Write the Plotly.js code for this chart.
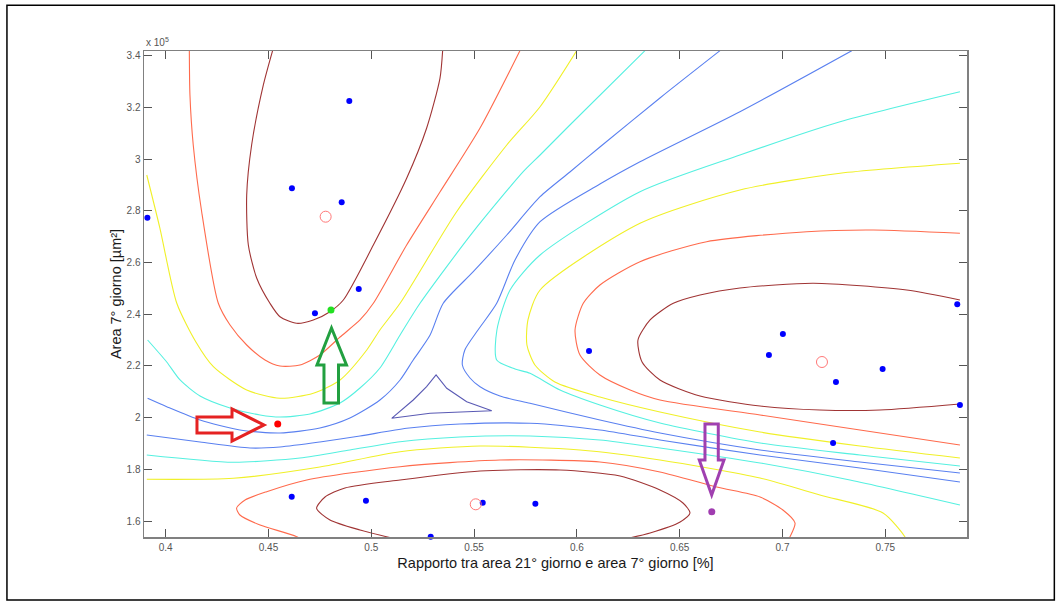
<!DOCTYPE html>
<html><head><meta charset="utf-8">
<script src="https://cdn.plot.ly/plotly-3.0.1.min.js"></script>
<style>html,body{margin:0;padding:0;background:#fff}#chart{width:1060px;height:603px}</style>
</head><body><div id="chart"></div>
<script>
// ---- contour lines (x = ratio, y = area in 1e5 µm²) ----
// upper-left cluster
const ulL7x = [0.4520,0.4475,0.4418,0.4394,0.4402,0.4443,0.4507,0.4556,0.4637,0.4718,0.4799,0.4864,0.5010,0.5172,0.5269,0.5334,0.5347];
const ulL7y = [3.4194,3.2867,3.0546,2.8611,2.6677,2.5389,2.4422,2.3903,2.3648,2.3776,2.4097,2.4549,2.6677,2.9257,3.1192,3.3126,3.4194];
const ulL6x = [0.4115,0.4118,0.4134,0.4175,0.4256,0.4313,0.4394,0.4483,0.4556,0.4653,0.4750,0.4848,0.4945,0.5010,0.5172,0.5334,0.5529,0.5723];
const ulL6y = [3.4194,3.2480,3.0546,2.7965,2.4422,2.3582,2.2809,2.2228,2.1996,2.2035,2.2422,2.3118,2.3776,2.4422,2.6677,2.8727,3.1203,3.4194];
const ulL5x = [0.3908,0.3972,0.4054,0.4147,0.4232,0.4394,0.4556,0.4718,0.4848,0.4978,0.5042,0.5140,0.5415,0.5659,0.5821,0.5999];
const ulL5y = [2.9385,2.7323,2.4422,2.2925,2.1969,2.1068,2.0747,2.0940,2.1455,2.2615,2.3389,2.4422,2.7965,3.0546,3.2027,3.4194];
const ulL4x = [0.3912,0.4005,0.4070,0.4167,0.4313,0.4459,0.4556,0.4702,0.4848,0.4945,0.5042,0.5140,0.5237,0.5496,0.5739,0.5821,0.5966,0.6331];
const ulL4y = [2.3002,2.2151,2.1455,2.0836,2.0371,2.0101,2.0023,2.0139,2.0565,2.1145,2.1919,2.3195,2.4422,2.7192,2.9513,3.0159,3.1319,3.4194];
const ulL3x = [0.3912,0.4005,0.4167,0.4361,0.4556,0.4750,0.4896,0.5042,0.5140,0.5204,0.5286,0.5350,0.5496,0.5659,0.5821,0.5966,0.6112,0.6404,0.6696];
const ulL3y = [2.0747,2.0422,1.9907,1.9520,1.9404,1.9598,1.9985,2.0681,2.1455,2.2228,2.3195,2.4422,2.5644,2.7064,2.8545,2.9501,3.0468,3.2364,3.4194];
// right cluster
const rL3x = [0.7337,0.6793,0.6307,0.6112,0.5821,0.5699,0.5610,0.5519,0.5455,0.5443,0.5480,0.5529,0.5626,0.5772,0.6112,0.6404,0.6891,0.7377,0.7863];
const rL3y = [3.4194,3.1834,2.9899,2.9037,2.7578,2.6097,2.4422,2.3389,2.2615,2.2035,2.1532,2.1195,2.0836,2.0553,1.9907,1.9404,1.8747,1.8282,1.7857];
const rL4x = [0.7863,0.7280,0.6793,0.6307,0.5821,0.5675,0.5611,0.5610,0.5699,0.5772,0.5918,0.6112,0.6404,0.6891,0.7377,0.7863];
const rL4y = [3.2607,3.1447,3.0159,2.8739,2.6290,2.4936,2.3389,2.2228,2.1880,2.1714,2.1068,2.0487,1.9791,1.9017,1.8553,1.8128];
const rL5x = [0.7863,0.7280,0.6793,0.6307,0.5821,0.5762,0.5757,0.5796,0.5893,0.6112,0.6404,0.6891,0.7377,0.7863];
const rL5y = [2.9838,2.9451,2.8805,2.7516,2.4936,2.3776,2.2809,2.2035,2.1377,2.0797,2.0217,1.9443,1.8901,1.8437];
const rL6x = [0.7863,0.7442,0.7118,0.6631,0.6307,0.6112,0.6031,0.5991,0.6015,0.6112,0.6259,0.6404,0.6891,0.7377,0.7863];
const rL6y = [2.7130,2.7257,2.7192,2.6805,2.6031,2.5130,2.4422,2.3389,2.2422,2.1648,2.1068,2.0681,2.0101,1.9520,1.8940];
const rL7x = [0.7863,0.7604,0.7150,0.6793,0.6599,0.6469,0.6356,0.6297,0.6317,0.6404,0.6599,0.6891,0.7182,0.7474,0.7863];
const rL7y = [2.4549,2.4936,2.5195,2.5014,2.4743,2.4422,2.3776,2.3002,2.2151,2.1455,2.0836,2.0449,2.0294,2.0294,2.0526];
// bottom cluster
const bL3x = [0.3908,0.4167,0.4410,0.4556,0.4750,0.4945,0.5172,0.5431,0.5772,0.6112,0.6404,0.6891,0.7377,0.7863];
const bL3y = [1.9327,1.9056,1.8824,1.8863,1.9056,1.9288,1.9586,1.9752,1.9779,1.9520,1.9133,1.8553,1.8050,1.7509];
const bL4x = [0.3908,0.4329,0.4653,0.4896,0.5140,0.5431,0.5772,0.6112,0.6404,0.6891,0.7328,0.7863];
const bL4y = [1.8553,1.8271,1.8437,1.8747,1.9068,1.9250,1.9288,1.9133,1.8824,1.8244,1.7586,1.6619];
const bL5x = [0.3908,0.4329,0.4750,0.5140,0.5529,0.6015,0.6404,0.6891,0.7182,0.7489,0.7596,0.7611];
const bL5y = [1.7613,1.7652,1.8089,1.8681,1.8901,1.8747,1.8360,1.7663,1.7006,1.6309,1.5381,1.5072];
const bL6x = [0.4702,0.4637,0.4459,0.4361,0.4345,0.4386,0.4491,0.4686,0.5140,0.5626,0.6112,0.6404,0.6680,0.6891,0.7002,0.7061,0.7036,0.7012];
const bL6y = [1.5072,1.5393,1.5845,1.6232,1.6503,1.6812,1.7133,1.7586,1.8101,1.8360,1.8282,1.7896,1.7315,1.6928,1.6426,1.5923,1.5381,1.5072];
const bL7x = [0.5140,0.4945,0.4799,0.4734,0.4775,0.4872,0.5140,0.5529,0.5918,0.6210,0.6404,0.6516,0.6550,0.6502,0.6356,0.6210];
const bL7y = [1.5265,1.5652,1.6039,1.6491,1.6928,1.7277,1.7586,1.7934,1.7973,1.7741,1.7199,1.6696,1.6309,1.5961,1.5536,1.5265];
// central closed contour
const triX = [0.5099,0.5204,0.5269,0.5315,0.5367,0.5464,0.5586,0.5446,0.5286,0.5099];
const triY = [1.9973,2.0681,2.1195,2.1648,2.1133,2.0615,2.0267,2.0228,2.0166,1.9973];

// ---- samples ----
const sampleX = [0.3911,0.4614,0.4856,0.4893,0.5169,0.4939,0.4726,0.4613,0.4974,0.5289,0.5542,0.5798,0.6059,0.7002,0.6934,0.7260,0.7487,0.7246,0.7850,0.7863];
const sampleY = [2.7733,2.8870,2.8329,3.2248,3.4194,2.4975,2.4035,1.6940,1.6785,1.5393,1.6708,1.6669,2.2576,2.3234,2.2422,2.1377,2.1880,1.9017,2.4383,2.0487];
const centerX = [0.4778,0.7192,0.5508];
const centerY = [2.7772,2.2151,1.6646];
const greenX = [0.4804], greenY = [2.4163];
const redX = [0.4545], redY = [1.9752];
const purpleX = [0.6656], purpleY = [1.6360];

const xTicks = [0.4,0.45,0.5,0.55,0.6,0.65,0.7,0.75];
const xTickText = ['0.4','0.45','0.5','0.55','0.6','0.65','0.7','0.75'];
const yTicks = [1.6,1.8,2.0,2.2,2.4,2.6,2.8,3.0,3.2,3.4];
const yTickText = ['1.6','1.8','2','2.2','2.4','2.6','2.8','3','3.2','3.4'];

const C7 = '#a03434', C6 = '#ff6a4c', C5 = '#f0f028', C4 = '#55f0e0', C3 = '#5a80f0', C2 = '#5a5ab4';
function line(x, y, color, shape) {
  return {type:'scatter', mode:'lines', x:x, y:y, hoverinfo:'skip', showlegend:false,
    line:{color:color, width:1.1, shape:shape||'spline', smoothing:0.7}};
}
const traces = [
  line(ulL7x, ulL7y, C7), line(ulL6x, ulL6y, C6), line(ulL5x, ulL5y, C5), line(ulL4x, ulL4y, C4), line(ulL3x, ulL3y, C3),
  line(rL7x, rL7y, C7), line(rL6x, rL6y, C6), line(rL5x, rL5y, C5), line(rL4x, rL4y, C4), line(rL3x, rL3y, C3),
  line(bL7x, bL7y, C7), line(bL6x, bL6y, C6), line(bL5x, bL5y, C5), line(bL4x, bL4y, C4), line(bL3x, bL3y, C3),
  line(triX, triY, C2, 'linear'),
  {type:'scatter', mode:'markers', x:sampleX, y:sampleY, hoverinfo:'skip', showlegend:false, cliponaxis:false,
    marker:{color:'#0000ff', size:6}},
  {type:'scatter', mode:'markers', x:centerX, y:centerY, hoverinfo:'skip', showlegend:false,
    marker:{symbol:'circle-open', color:'#ff7878', size:11, line:{width:1}}},
  {type:'scatter', mode:'markers', x:greenX, y:greenY, hoverinfo:'skip', showlegend:false, marker:{color:'#22e022', size:7}},
  {type:'scatter', mode:'markers', x:redX, y:redY, hoverinfo:'skip', showlegend:false, marker:{color:'#ff0000', size:7}},
  {type:'scatter', mode:'markers', x:purpleX, y:purpleY, hoverinfo:'skip', showlegend:false, marker:{color:'#a03cb0', size:7}}
];

const axisCommon = {ticks:'inside', ticklen:8, tickcolor:'#555', tickwidth:1, showline:true, linecolor:'#808080',
  linewidth:1.5, mirror:'ticks', showgrid:false, zeroline:false, tickmode:'array',
  tickfont:{family:'Arial, Liberation Sans, sans-serif', size:10, color:'#555'}};

const layout = {
  width:1060, height:603, paper_bgcolor:'#fff', plot_bgcolor:'#fff',
  margin:{l:144, r:93, t:51, b:66},
  showlegend:false,
  xaxis:Object.assign({}, axisCommon, {range:[0.38945,0.78974], tickvals:xTicks, ticktext:xTickText,
    title:{text:'Rapporto tra area 21° giorno e area 7° giorno [%]', standoff:6,
      font:{family:'Arial, Liberation Sans, sans-serif', size:14.5, color:'#1a1a1a'}}}),
  yaxis:Object.assign({}, axisCommon, {range:[1.5381,3.4182], tickvals:yTicks, ticktext:yTickText,
    title:{text:'Area 7° giorno [µm²]', standoff:1,
      font:{family:'Arial, Liberation Sans, sans-serif', size:14.5, color:'#1a1a1a'}}}),
  annotations:[{xref:'paper', yref:'paper', x:0, y:1.0179, xanchor:'left', yanchor:'middle', showarrow:false,
    text:'x 10<sup>5</sup>', font:{family:'Arial, Liberation Sans, sans-serif', size:10, color:'#555'}}],
  shapes:[
    {type:'rect', xref:'paper', yref:'paper', x0:-0.16653, x1:1.10612, y0:-0.12955, y1:1.09397,
      line:{color:'#000', width:1.5}},
    {type:'path', xref:'x', yref:'y', line:{color:'#e52222', width:3}, fillcolor:'rgba(0,0,0,0)',
      path:'M0.41522,2.0023 L0.43225,2.0023 L0.43225,2.0333 L0.44781,1.97137 L0.43225,1.90948 L0.43225,1.94043 L0.41522,1.94043 Z'},
    {type:'path', xref:'x', yref:'y', line:{color:'#22a040', width:3}, fillcolor:'rgba(0,0,0,0)',
      path:'M0.47699,2.05648 L0.47699,2.20348 L0.47359,2.20348 L0.48064,2.34662 L0.48794,2.20348 L0.48405,2.20348 L0.48405,2.05648 Z'},
    {type:'path', xref:'x', yref:'y', line:{color:'#a040b0', width:3}, fillcolor:'rgba(0,0,0,0)',
      path:'M0.6623,1.97524 L0.66877,1.97524 L0.66877,1.83598 L0.67155,1.83598 L0.66556,1.70058 L0.65953,1.83598 L0.6623,1.83598 Z'}
  ]
};
Plotly.newPlot('chart', traces, layout, {displayModeBar:false, staticPlot:true});
</script>
</body></html>
